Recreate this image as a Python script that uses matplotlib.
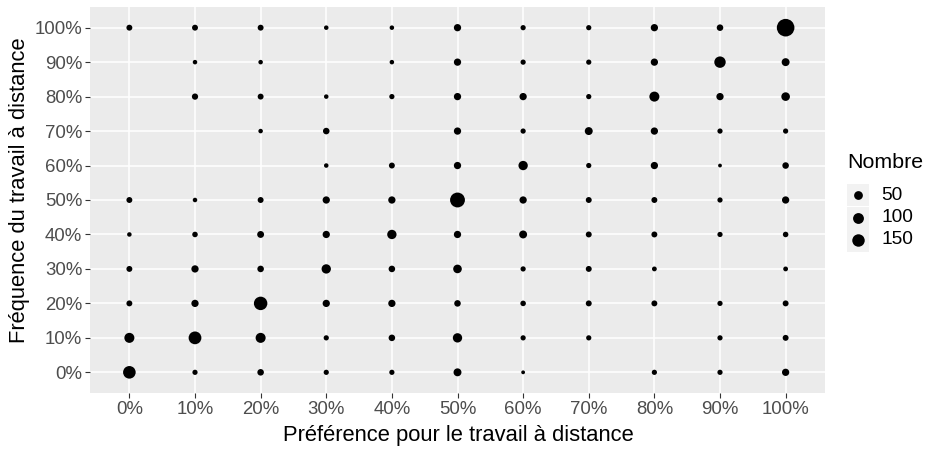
import numpy as np
import matplotlib
matplotlib.use('Agg')
from matplotlib import pyplot as plt
from matplotlib.lines import Line2D
from matplotlib.patches import Rectangle

plt.rcParams['font.family'] = ['Liberation Sans', 'DejaVu Sans']

# Préférence (x) categories and frequency (y) categories
preference = [0, 10, 20, 30, 40, 50, 60, 70, 80, 90, 100]
frequence = [100, 90, 80, 70, 60, 50, 40, 30, 20, 10, 0]

# counts per frequency row, listed by preference 0% .. 100% (0 = no point)
freq_100 = [10, 10, 10, 2, 2, 25, 5, 5, 25, 16, 380]
freq_90 = [0, 2, 2, 0, 2, 25, 5, 5, 25, 116, 35]
freq_80 = [0, 13, 10, 2, 5, 25, 25, 5, 78, 25, 47]
freq_70 = [0, 0, 2, 16, 0, 25, 5, 35, 25, 5, 5]
freq_60 = [0, 0, 0, 2, 10, 25, 62, 5, 25, 1, 16]
freq_50 = [10, 2, 10, 25, 25, 244, 25, 10, 10, 5, 25]
freq_40 = [2, 7, 20, 25, 62, 25, 35, 10, 10, 5, 7]
freq_30 = [10, 25, 16, 62, 16, 47, 5, 10, 3, 0, 3]
freq_20 = [10, 25, 187, 25, 25, 16, 7, 10, 10, 5, 10]
freq_10 = [78, 161, 78, 5, 16, 62, 5, 5, 0, 5, 10]
freq_0 = [155, 5, 16, 5, 5, 35, 1, 0, 5, 5, 25]
rows = [freq_100, freq_90, freq_80, freq_70, freq_60, freq_50,
        freq_40, freq_30, freq_20, freq_10, freq_0]

legend_values = [50, 100, 150]

vmin, vmax = 1, 380
W, H = 930, 454


def diam_pt(v):
    # ggplot-like area scale: diameter grows with sqrt of rescaled value
    v = np.asarray(v, dtype=float)
    d_px = 3.8 + 13.8 * np.sqrt(np.clip((v - vmin) / (vmax - vmin), 0, 1))
    return d_px * 72 / 100


xs, ys, ns = [], [], []
for fy, row in zip(frequence, rows):
    for px, n in zip(preference, row):
        if n > 0:
            xs.append(px / 10)
            ys.append(fy / 10)
            ns.append(n)

fig = plt.figure(figsize=(9.3, 4.54), dpi=100)
ax = fig.add_axes([90 / W, 1 - 393 / H, 735 / W, 386 / H])
ax.set_facecolor('#EBEBEB')
for s in ax.spines.values():
    s.set_visible(False)

ax.scatter(xs, ys, s=diam_pt(ns) ** 2, c='black', linewidths=0, zorder=3)

ax.set_xlim(-0.6, 10.6)
ax.set_ylim(-0.6, 10.6)
ax.set_xticks(range(11))
ax.set_xticklabels(['%d%%' % p for p in preference])
ax.set_yticks(range(11))
ax.set_yticklabels(['%d%%' % (f * 10) for f in range(11)])
ax.grid(True, color='white', linewidth=1.1, zorder=0)
ax.set_axisbelow(True)
ax.tick_params(axis='both', colors='#333333', length=3.5, width=0.8,
               labelcolor='#4D4D4D', labelsize=13.4, pad=2)

fig.text(458 / W, 1 - 436 / H, 'Préférence pour le travail à distance',
         ha='center', va='center', fontsize=15.8)
fig.text(20 / W, 1 - 190 / H, 'Fréquence du travail à distance',
         ha='center', va='center', rotation=90, fontsize=15.8)

# legend drawn by hand, ggplot style
fig.text(847 / W, 1 - 163 / H, 'Nombre', ha='left', va='center', fontsize=15.4)
key_y = [195, 218, 240]
for v, ky in zip(legend_values, key_y):
    fig.add_artist(Rectangle((847 / W, 1 - (ky + 11.5) / H), 22 / W, 23 / H,
                             transform=fig.transFigure, facecolor='#F2F2F2',
                             edgecolor='none'))
    fig.add_artist(Line2D([858 / W], [1 - ky / H], transform=fig.transFigure,
                          linestyle='none', marker='o', color='black',
                          markeredgewidth=0, markersize=float(diam_pt(v))))
    fig.text(881 / W, 1 - ky / H, str(v), ha='left', va='center',
             fontsize=13.8, color='black')

fig.savefig('out.png', dpi=100)
